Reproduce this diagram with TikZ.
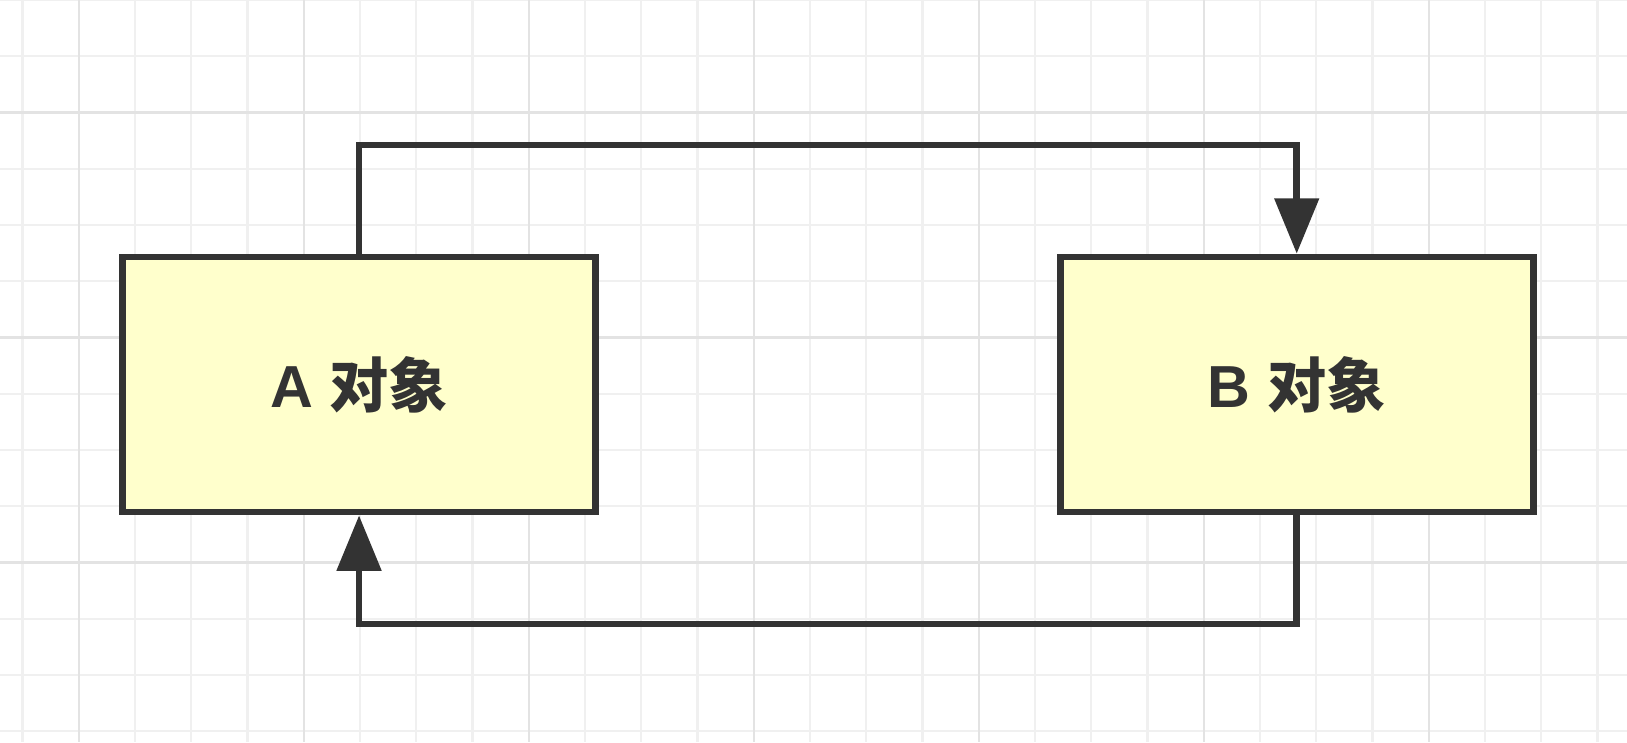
\documentclass[tikz,border=0pt]{standalone}
\usepackage{fontspec}
\setmainfont{Liberation Sans}
\newfontfamily\cjkfont{Noto Sans CJK SC}
\usepackage{xcolor}
\usetikzlibrary{arrows.meta, positioning}
\definecolor{objFill}{HTML}{FFFFCC}
\definecolor{objDark}{HTML}{333333}
\definecolor{gridMinor}{HTML}{F0F0F0}
\definecolor{gridMajor}{HTML}{E3E3E3}

\begin{document}
\begin{tikzpicture}[x=0.5cm, y=-0.5cm]
        \tikzstyle{obj} = [rectangle, draw=objDark, fill=objFill, line width=1.7pt, minimum width=4.205cm, minimum height=2.267cm, text=objDark, font=\fontsize{15}{18}\selectfont\bfseries]
        \tikzstyle{arrow} = [-{Triangle[length=14pt, width=11pt]}, line width=1.7pt, objDark]
        \tikzstyle{minorline} = [gridMinor, line width=0.6pt]
        \tikzstyle{majorline} = [gridMajor, line width=0.6pt]
        
        \fill[white] (0,0) rectangle (28.924,13.191);
        \useasboundingbox (0,0) rectangle (28.924,13.191);
        
        % grid
        \foreach \gx in {0,...,28} \draw[minorline] (\gx+0.4,0) -- (\gx+0.4,13.191);
        \foreach \gy in {0,...,13} \draw[minorline] (0,\gy) -- (28.924,\gy);
        \foreach \gx in {1,5,...,25} \draw[majorline] (\gx+0.4,0) -- (\gx+0.4,13.191);
        \foreach \gy in {2,6,10} \draw[majorline] (0,\gy) -- (28.924,\gy);
        
        \node[obj] (objA) at (6.383,6.836) {\raisebox{-1pt}{A {\cjkfont 对象}}};
        \node[obj, right=4.07cm of objA] (objB) {\raisebox{-1pt}{B {\cjkfont 对象}}};
        
        \draw[arrow] (objA.north) -- ++(0,-1.93) -| (objB.north);
        \draw[arrow] (objB.south) -- ++(0,1.93) -| (objA.south);
    \end{tikzpicture}
\end{document}
